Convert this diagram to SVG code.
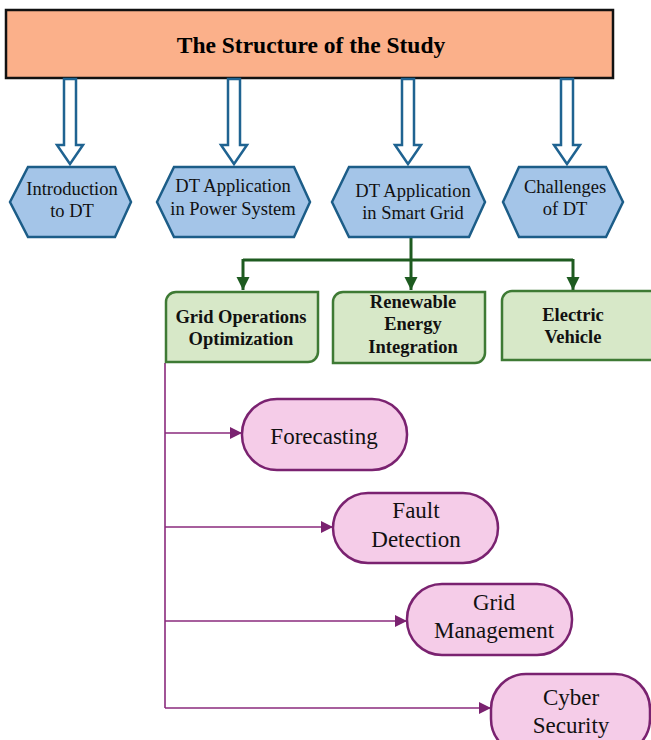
<svg xmlns="http://www.w3.org/2000/svg" width="651" height="740" viewBox="0 0 651 740">
<defs>
<style>
.title{font-family:"Liberation Serif",serif;font-weight:bold;font-size:23.5px;fill:#000}
.hex{fill:#a4c5e8;stroke:#1c5d88;stroke-width:2.5}
.hext{font-family:"Liberation Serif",serif;font-size:18.5px;fill:#111;text-anchor:middle}
.hollow{fill:#fff;stroke:#1f6391;stroke-width:2.5;stroke-linejoin:miter}
.gbox{fill:#d7e8c8;stroke:#3e7a34;stroke-width:2.5}
.gt{font-family:"Liberation Serif",serif;font-weight:bold;font-size:18.5px;fill:#111;text-anchor:middle}
.gline{fill:none;stroke:#1e5b20;stroke-width:3}
.pbox{fill:#f5cce8;stroke:#7a2270;stroke-width:2.5}
.pt{font-family:"Liberation Serif",serif;font-size:23px;fill:#111;text-anchor:middle}
.pline{fill:none;stroke:#8a2a7c;stroke-width:1.6}
</style>
<marker id="ga" viewBox="0 0 10 10" refX="10" refY="5" markerWidth="4.4" markerHeight="4.4" markerUnits="strokeWidth" orient="auto">
<path d="M0,0 L10,5 L0,10 Z" fill="#1e5b20"/>
</marker>
<marker id="pa" viewBox="0 0 10 10" refX="10" refY="5" markerWidth="7.5" markerHeight="7.5" markerUnits="strokeWidth" orient="auto">
<path d="M0,0 L10,5 L0,10 Z" fill="#7a2270"/>
</marker>
</defs>
<rect width="651" height="740" fill="#fff"/>

<g id="title">
<rect x="6" y="10" width="607" height="68" fill="#fbb08a" stroke="#111" stroke-width="2.5"/>
<text class="title" x="311" y="53" text-anchor="middle">The Structure of the Study</text>
</g>

<g id="connectors">
<path class="hollow" d="M64,79 V145 H57 L70,164 L83,145 H76 V79 Z"/>
<path class="hollow" d="M228,79 V145 H221 L234,164 L247,145 H240 V79 Z"/>
<path class="hollow" d="M402,79 V145 H395 L408,164 L421,145 H414 V79 Z"/>
<path class="hollow" d="M561,79 V145 H554 L567,164 L580,145 H573 V79 Z"/>
<path class="gline" d="M411,238 V290" marker-end="url(#ga)"/>
<path class="gline" d="M243,260 H573"/>
<path class="gline" d="M243,259 V290" marker-end="url(#ga)"/>
<path class="gline" d="M573,259 V290" marker-end="url(#ga)"/>
<path class="pline" d="M165,363 V708"/>
<path class="pline" d="M165,433 H242" marker-end="url(#pa)"/>
<path class="pline" d="M165,527 H333" marker-end="url(#pa)"/>
<path class="pline" d="M165,621 H407" marker-end="url(#pa)"/>
<path class="pline" d="M165,708 H491" marker-end="url(#pa)"/>
</g>

<g id="intro">
<polygon class="hex" points="10,202 28,167 115,167 131,202 115,237 28,237"/>
<text class="hext" x="72" y="195">Introduction</text>
<text class="hext" x="72" y="217">to DT</text>
</g>
<g id="power">
<polygon class="hex" points="157,202 174,167 294,167 310,202 294,237 174,237"/>
<text class="hext" x="233" y="192">DT Application</text>
<text class="hext" x="233" y="215">in Power System</text>
</g>
<g id="smart">
<polygon class="hex" points="332,202 349,167 469,167 485,202 469,237 349,237"/>
<text class="hext" x="413" y="197">DT Application</text>
<text class="hext" x="413" y="219">in Smart Grid</text>
</g>
<g id="challenges">
<polygon class="hex" points="503,202 519,167 606,167 623,202 606,237 519,237"/>
<text class="hext" x="565" y="193">Challenges</text>
<text class="hext" x="565" y="215">of DT</text>
</g>

<g id="gridops">
<path class="gbox" d="M176,292 H318 V352 A10,10 0 0 1 308,362 H166 V302 A10,10 0 0 1 176,292 Z"/>
<text class="gt" x="241" y="323">Grid Operations</text>
<text class="gt" x="241" y="345">Optimization</text>
</g>
<g id="renewable">
<path class="gbox" d="M343,292 H485 V353 A10,10 0 0 1 475,363 H333 V302 A10,10 0 0 1 343,292 Z"/>
<text class="gt" x="413" y="308">Renewable</text>
<text class="gt" x="413" y="330">Energy</text>
<text class="gt" x="413" y="353">Integration</text>
</g>
<g id="ev">
<path class="gbox" d="M512,291 H660 V360 H502 V301 A10,10 0 0 1 512,291 Z"/>
<text class="gt" x="573" y="321">Electric</text>
<text class="gt" x="573" y="343">Vehicle</text>
</g>

<g id="forecasting">
<rect class="pbox" x="242" y="399" width="165" height="71" rx="35" ry="35"/>
<text class="pt" x="324" y="444">Forecasting</text>
</g>
<g id="fault">
<rect class="pbox" x="333" y="493" width="165" height="70" rx="35" ry="35"/>
<text class="pt" x="416" y="518">Fault</text>
<text class="pt" x="416" y="547">Detection</text>
</g>
<g id="gridmgmt">
<rect class="pbox" x="407" y="584" width="165" height="71" rx="35" ry="35"/>
<text class="pt" x="494" y="610">Grid</text>
<text class="pt" x="494" y="638">Management</text>
</g>
<g id="cyber">
<rect class="pbox" x="491" y="674" width="159" height="80" rx="35" ry="35"/>
<text class="pt" x="571" y="705">Cyber</text>
<text class="pt" x="571" y="733">Security</text>
</g>
</svg>
